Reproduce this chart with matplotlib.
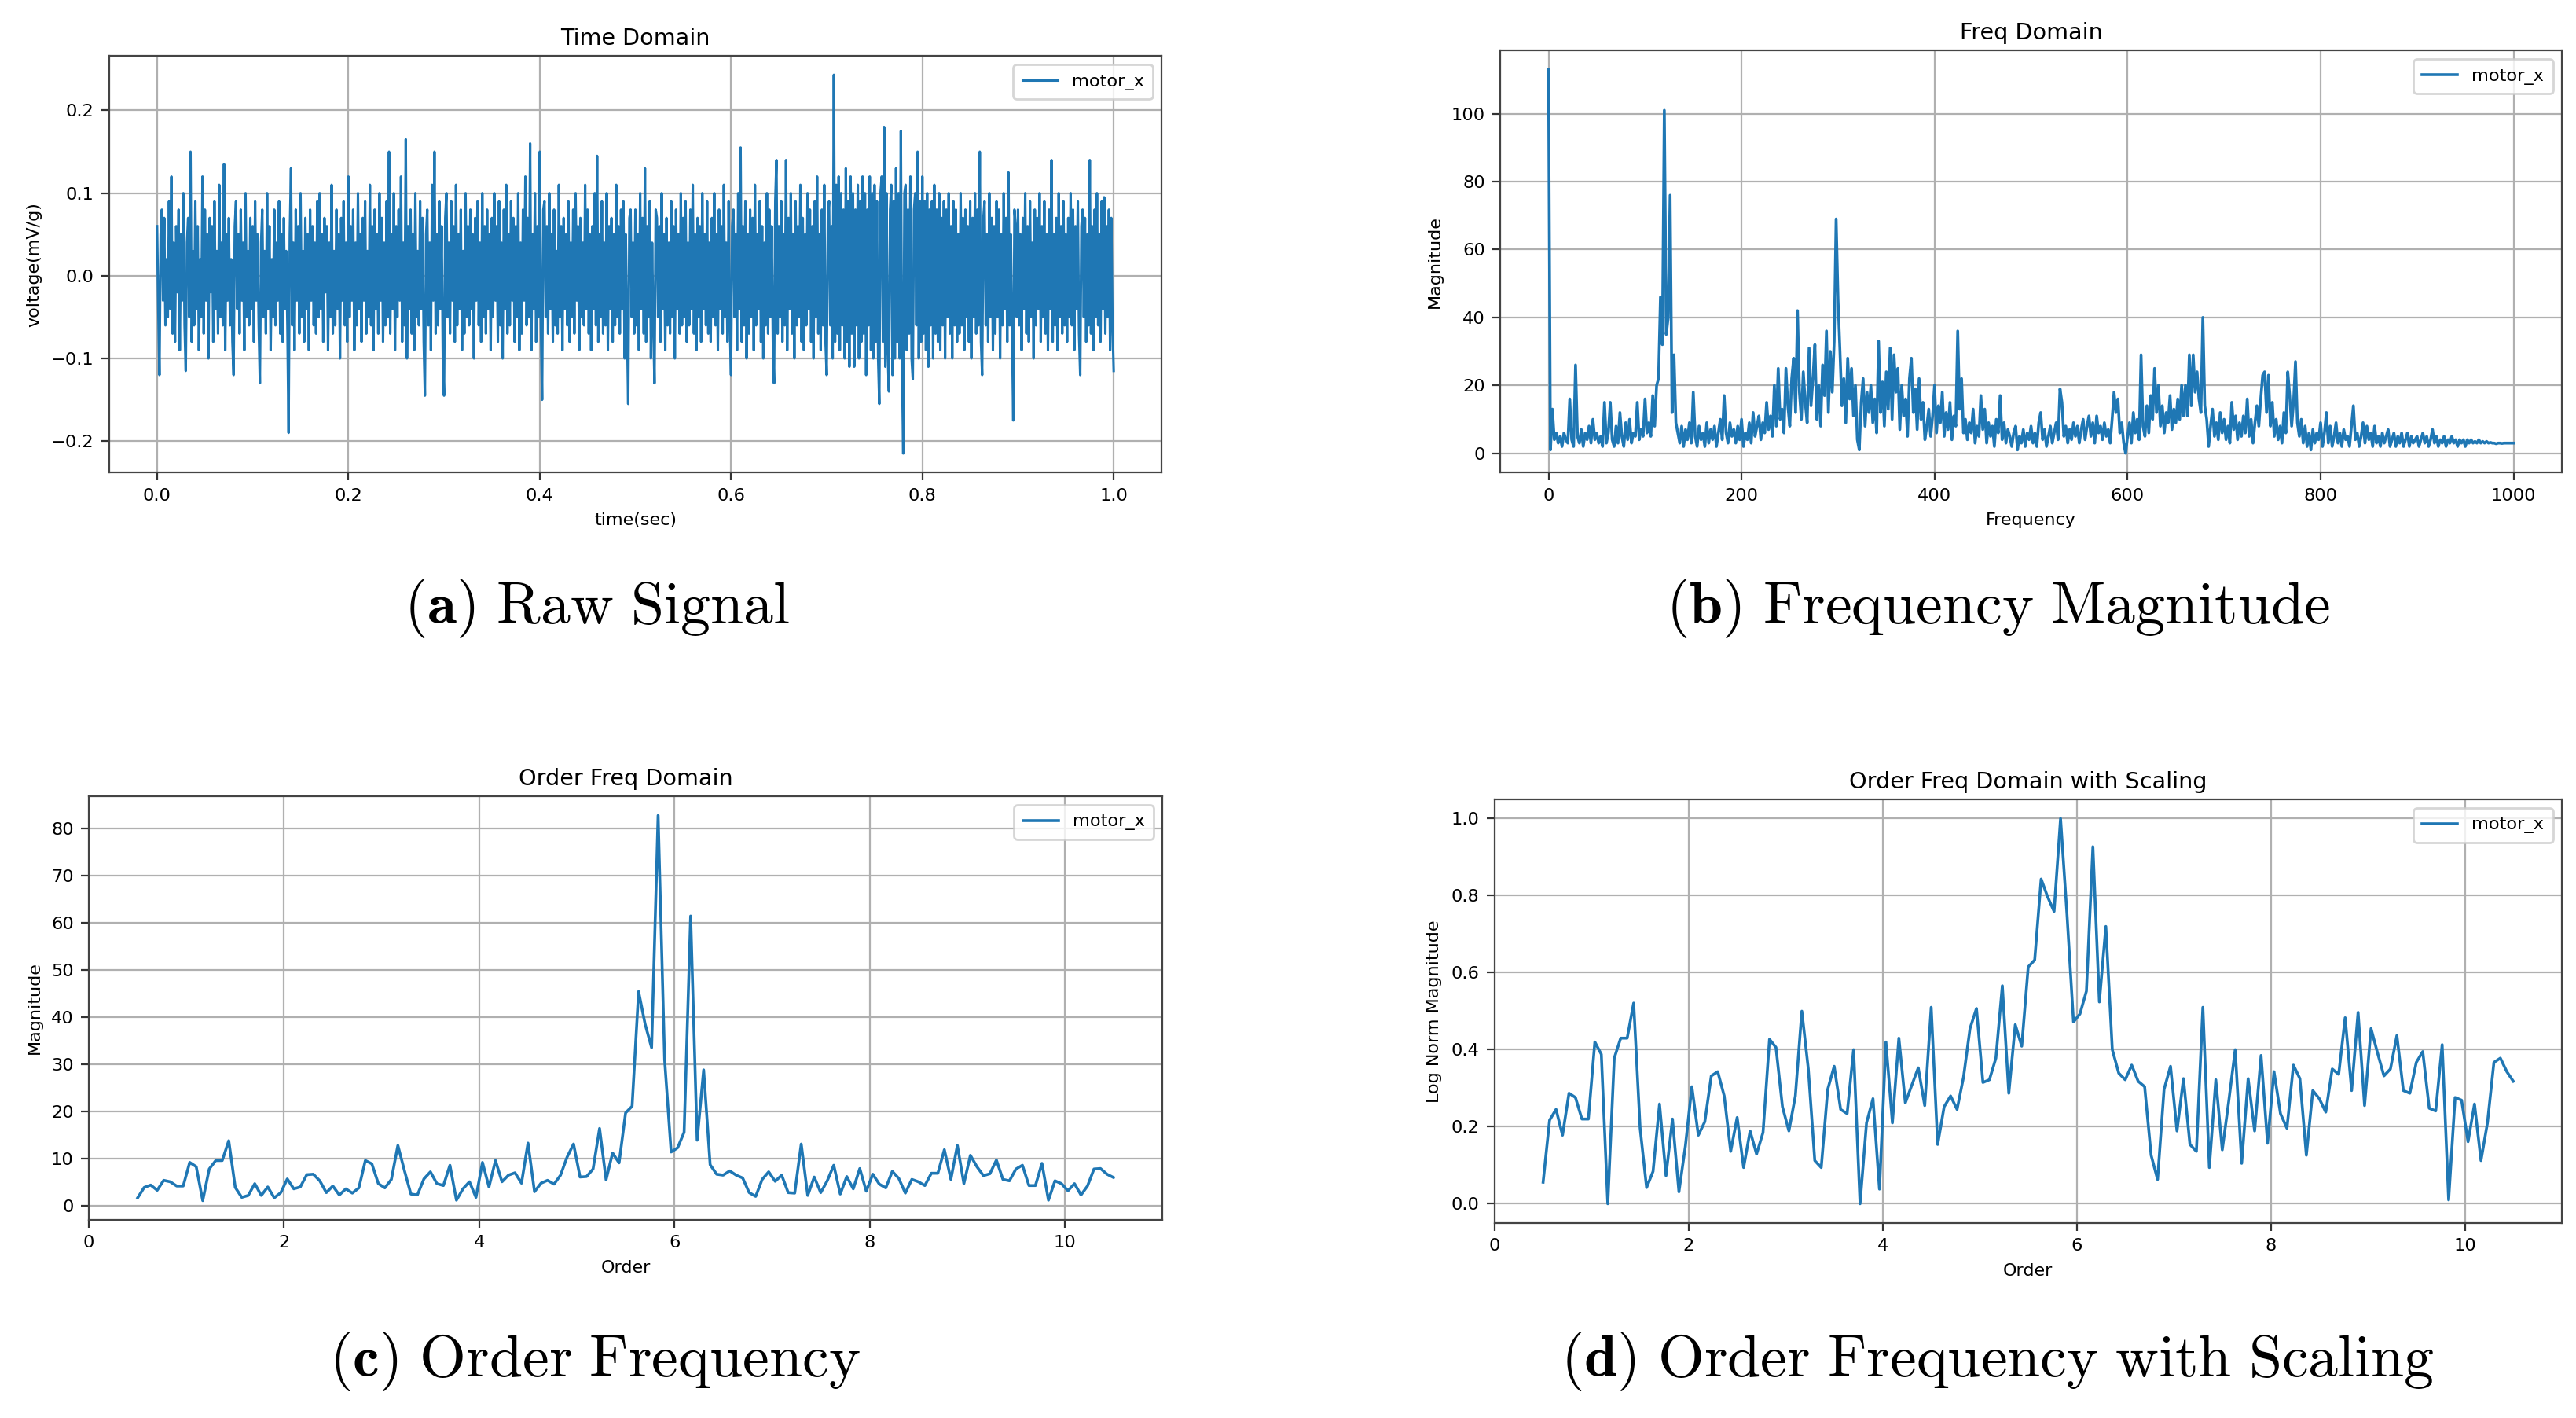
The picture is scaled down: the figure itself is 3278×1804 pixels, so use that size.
import numpy as np
import matplotlib
matplotlib.use("Agg")
import matplotlib.pyplot as plt

# === data ===
# (a) raw vibration signal, one value every 1.25 ms over 1 s
time_sig = [
    .06, -.04, -.12, .05, .08, -.03, .07, -.06, .02, -.05, .09, -.04, .12, -.07, .04, -.08, .06, -.02, .08, -.09,
    .05, -.03, .10, -.06, -.115, .04, .07, -.05, .15, -.08, .03, -.06, .09, -.04, .06, -.09, .02, -.05, .12, -.07,
    .08, -.03, .05, -.1, .07, -.02, .06, -.08, .09, -.04, .03, -.07, .11, -.05, .04, -.06, .135, -.09, .05, -.03,
    .07, -.06, .02, -.08, -.12, .06, .09, -.04, .05, -.07, .08, -.03, .04, -.09, .1, -.05, .03, -.06, .07, -.04,
    .06, -.08, .09, -.03, .05, -.06, -.13, .04, .08, -.05, .03, -.07, .1, -.04, .06, -.09, .02, -.05, .08, -.06,
    .04, -.03, .09, -.07, .05, -.08, .07, -.04, .03, -.06, -.19, .05, .13, -.06, .04, -.09, .08, -.03, .06, -.07,
    .1, -.05, .03, -.08, .07, -.04, .05, -.09, .08, -.03, .06, -.06, .04, -.07, .09, -.05, .1, -.04, .05, -.08,
    .07, -.02, .06, -.09, .04, -.05, .11, -.07, .03, -.06, .08, -.04, .05, -.1, .07, -.03, .09, -.06, .04, -.08,
    .12, -.05, .06, -.03, .08, -.09, .04, -.06, .1, -.04, .05, -.08, .07, -.03, .09, -.07, .03, -.05, .11, -.06,
    .06, -.09, .08, -.04, .05, -.07, .1, -.03, .07, -.08, .04, -.06, .09, -.05, .15, -.07, .05, -.04, .1, -.09,
    .06, -.05, .08, -.03, .12, -.08, .04, -.06, .165, -.1, .06, -.04, .08, -.07, .05, -.09, .1, -.05, .03, -.06,
    .09, -.04, .07, -.08, -.145, .05, .08, -.06, .04, -.09, .11, -.03, .15, -.07, .05, -.06, .09, -.04, .06, -.1,
    -.145, .07, .1, -.05, .04, -.07, .09, -.03, .06, -.08, .11, -.06, .05, -.04, .08, -.09, .03, -.07, .1, -.05,
    .06, -.06, .08, -.04, .05, -.1, .07, -.03, .09, -.06, .04, -.08, .1, -.05, .06, -.07, .08, -.04, .05, -.09,
    .07, -.05, .1, -.03, .06, -.08, .09, -.06, .04, -.1, .08, -.04, .11, -.07, .05, -.06, .09, -.03, .07, -.08,
    .06, -.05, .1, -.09, .04, -.07, .08, -.03, .12, -.06, .07, -.05, .16, -.09, .05, -.04, .1, -.08, .06, -.05,
    .15, -.06, -.15, .08, .09, -.05, .06, -.07, .1, -.04, .05, -.08, .08, -.06, .03, -.07, .11, -.05, .06, -.09,
    .07, -.04, .05, -.06, .09, -.08, .04, -.05, .08, -.07, .1, -.03, .06, -.09, .07, -.05, .04, -.06, .11, -.04,
    .08, -.07, .05, -.09, .06, -.04, .1, -.06, .145, -.08, .05, -.05, .09, -.07, .04, -.06, .1, -.09, .06, -.04,
    .07, -.08, .05, -.06, .11, -.05, .06, -.07, .08, -.04, .09, -.1, .05, -.06, -.155, .07, .08, -.05, .04, -.07,
    .08, -.06, .05, -.09, .1, -.04, .07, -.07, .13, -.08, .06, -.05, .09, -.1, .04, -.06, -.13, .08, .07, -.05,
    .06, -.08, .1, -.04, .05, -.09, .07, -.06, .04, -.07, .09, -.05, .06, -.1, .08, -.04, .05, -.07, .1, -.06,
    .07, -.05, .09, -.08, .04, -.06, .08, -.04, .11, -.07, .05, -.09, .07, -.05, .06, -.08, .1, -.04, .05, -.06,
    .09, -.07, .04, -.08, .07, -.05, .1, -.06, .05, -.09, .08, -.04, .06, -.07, .11, -.05, .04, -.08, .09, -.06,
    -.12, .06, .08, -.05, .05, -.09, .1, -.04, .155, -.08, .06, -.06, .09, -.1, .05, -.07, .08, -.05, .07, -.09,
    .11, -.06, .05, -.04, .09, -.08, .06, -.1, .04, -.06, .1, -.07, .08, -.05, .06, -.08, -.13, .09, .14, -.07,
    .06, -.05, .09, -.08, .05, -.06, .14, -.09, .07, -.04, .1, -.07, .05, -.1, .09, -.06, .06, -.05, .11, -.08,
    .07, -.09, .05, -.06, .1, -.04, .08, -.08, .06, -.1, .09, -.05, .12, -.07, .05, -.09, .08, -.06, .11, -.08,
    -.12, .07, .09, -.06, .06, -.1, .243, -.08, .11, -.07, .12, -.09, .1, -.06, .08, -.1, .13, -.08, .09, -.11,
    .12, -.07, .1, -.11, .08, -.06, .11, -.1, .09, -.08, .12, -.07, .1, -.12, .08, -.06, .12, -.09, .1, -.1,
    .11, -.08, .09, -.1, -.155, .1, .12, -.08, .18, -.11, .1, -.09, -.14, .08, .11, -.12, .09, -.1, .13, -.08,
    .1, -.1, .175, -.11, -.215, .1, .11, -.09, .08, -.07, .12, -.1, -.125, .08, .1, -.06, .15, -.1, .09, -.08,
    .12, -.07, .09, -.09, .1, -.11, .08, -.06, .09, -.1, .11, -.07, .08, -.08, .1, -.09, .07, -.06, .09, -.1,
    .08, -.05, .1, -.07, .06, -.1, .09, -.06, .08, -.08, .05, -.07, .1, -.06, .07, -.09, .08, -.05, .06, -.08,
    .09, -.1, .07, -.05, .1, -.07, .08, -.06, .15, -.08, -.12, .07, .09, -.06, .05, -.08, .1, -.05, .07, -.09,
    .06, -.07, .09, -.05, .08, -.1, .05, -.06, .1, -.04, .07, -.08, .125, -.06, .05, -.07, -.175, .08, .06, -.05,
    .08, -.06, .05, -.09, .07, -.04, .1, -.07, .06, -.08, .09, -.05, .04, -.1, .08, -.06, .07, -.04, .1, -.08,
    .06, -.05, .09, -.07, .05, -.09, .08, -.04, .14, -.08, .05, -.06, .07, -.09, .1, -.05, .06, -.07, .09, -.06,
    .05, -.08, .07, -.05, .1, -.06, .08, -.09, .06, -.04, .09, -.07, -.12, .06, .08, -.05, .07, -.08, .05, -.06,
    .14, -.07, .06, -.09, .08, -.05, .1, -.06, .05, -.08, .09, -.04, .095, -.07, .06, -.05, .08, -.09, .07, -.06,
    -.115,
]

# (b) FFT magnitude, one value every 2 Hz from 0 to 1000
freq_mag = [
    113, 1, 13, 4, 6, 3, 5, 2, 6, 4, 3, 16, 4, 2, 26, 5, 3, 7, 2, 6,
    4, 8, 3, 10, 4, 6, 3, 5, 2, 15, 3, 6, 15, 4, 2, 8, 3, 12, 5, 2,
    9, 4, 10, 3, 6, 5, 15, 4, 7, 5,
    16, 6, 9, 5, 17, 8, 20, 22, 46, 32, 101, 35, 40, 76, 12, 29, 9, 6, 3, 8,
    2, 7, 4, 9, 3, 18, 5, 2, 8, 4, 6, 2, 9, 3, 7, 4, 8, 2, 6, 10,
    4, 17, 6, 3, 9, 5, 7, 3, 8, 4,
    10, 2, 6, 4, 9, 3, 12, 5, 8, 11, 4, 9, 6, 15, 7, 11, 5, 20, 8, 25,
    10, 13, 6, 25, 14, 8, 22, 28, 12, 42, 18, 10, 24, 15, 9, 31, 14, 22, 32, 10,
    20, 8, 26, 17, 36, 12, 30, 18, 33, 69,
    45, 30, 14, 22, 9, 28, 16, 25, 11, 20, 4, 1, 15, 22, 8, 18, 12, 20, 9, 16,
    6, 33, 12, 21, 8, 24, 13, 31, 10, 29, 18, 25, 7, 20, 11, 16, 5, 22, 28, 12,
    19, 7, 22, 10, 15, 4, 8, 13, 5, 11,
    20, 6, 14, 9, 18, 5, 12, 7, 15, 4, 11, 8, 36, 13, 22, 6, 10, 4, 9, 6,
    13, 3, 8, 5, 17, 7, 13, 3, 9, 5, 8, 2, 10, 6, 17, 4, 9, 3, 7, 5,
    2, 6, 8, 1, 5, 3, 7, 2, 6, 4,
    8, 3, 6, 2, 9, 12, 4, 7, 2, 5, 8, 3, 6, 9, 4, 19, 15, 5, 8, 3,
    7, 4, 9, 5, 8, 3, 7, 10, 4, 8, 11, 5, 9, 3, 11, 6, 8, 4, 9, 5,
    7, 3, 10, 18, 12, 16, 6, 9, 3, 0,
    5, 9, 3, 12, 6, 10, 4, 29, 8, 5, 14, 6, 17, 10, 25, 12, 20, 8, 14, 6,
    12, 9, 17, 7, 13, 9, 16, 10, 20, 11, 20, 11, 29, 14, 29, 18, 24, 16, 12, 40,
    14, 10, 2, 8, 13, 5, 9, 4, 12, 6,
    10, 4, 8, 3, 15, 7, 11, 4, 9, 5, 11, 6, 16, 5, 10, 3, 9, 14, 8, 16,
    23, 24, 12, 23, 8, 15, 5, 10, 4, 8, 3, 12, 6, 24, 17, 8, 15, 27, 9, 5,
    10, 3, 8, 2, 6, 1, 7, 3, 6, 4,
    9, 2, 6, 12, 3, 8, 2, 5, 9, 3, 6, 2, 7, 4, 5, 2, 8, 14, 4, 6,
    2, 5, 9, 3, 8, 4, 6, 2, 8, 3, 5, 2, 6, 3, 5, 7, 2, 4, 6, 2,
    5, 3, 6, 2, 4, 6, 2, 5, 3, 4,
    5, 2, 4, 6, 3, 5, 2, 4, 7, 3, 5, 2, 4, 3, 5, 2, 4, 3, 5, 3,
    4, 2, 4, 3, 4, 2, 4, 3, 4, 3, 3.5, 3, 4, 3, 3.5, 3, 3.5, 3, 3.2, 3,
    3, 2.8, 3, 3, 2.9, 3, 3, 3, 3, 3, 3,
]

# (c) order spectrum magnitude, orders 0.5 .. 10.5
order_mag = [
    1.7, 3.9, 4.4, 3.3, 5.4, 5.1, 4.2, 4.2, 9.2, 8.3, 1.1, 7.8, 9.6, 9.6, 13.8, 3.9, 1.8, 2.2, 4.7, 2.2,
    4.0, 1.7, 2.8, 5.7, 3.6, 4.0, 6.6, 6.7, 5.3, 2.8, 4.2, 2.3, 3.6, 2.7, 3.8, 9.6, 8.9, 4.7, 3.8, 5.6,
    12.8, 7.5, 2.5, 2.3, 5.7, 7.2, 4.7, 4.3, 8.6, 1.2, 3.6, 5.1, 1.8, 9.2, 4.0, 9.6, 5.1, 6.5, 7.0, 4.8,
    13.3, 3.0, 4.8, 5.4, 4.6, 6.5, 10.3, 13.1, 6.1, 6.2, 7.8, 16.4, 5.5, 11.2, 9.1, 19.7, 21.1, 45.4, 38.5, 33.5,
    82.7, 31.0, 11.4, 12.3, 15.6, 61.4, 13.9, 28.8, 8.7, 6.7, 6.5, 7.4, 6.5, 5.9, 2.8, 2.0, 5.6, 7.2, 5.2, 6.5,
    2.8, 2.7, 13.1, 2.2, 6.1, 2.8, 5.3, 8.6, 2.5, 6.2, 3.6, 7.9, 3.1, 6.7, 4.6, 3.8, 7.3, 5.8, 2.7, 5.6,
    5.1, 4.3, 6.9, 6.9, 11.9, 5.6, 12.8, 4.7, 10.7, 8.3, 6.4, 6.8, 9.7, 5.6, 5.3, 7.8, 8.6, 4.3, 4.3, 9.0,
    1.2, 5.3, 4.7, 3.2, 4.7, 2.3, 4.2, 7.8, 7.9, 6.7, 6.0,
]

# (d) log-normalised order spectrum
order_log = [
    0.056, 0.217, 0.245, 0.178, 0.287, 0.276, 0.22, 0.22, 0.42, 0.388, 0.0, 0.378, 0.43, 0.43, 0.521, 0.196,
    0.042, 0.084, 0.259, 0.073, 0.22, 0.031, 0.15, 0.304, 0.178, 0.213, 0.332, 0.343, 0.28, 0.136, 0.224, 0.094,
    0.189, 0.129, 0.185, 0.427, 0.406, 0.252, 0.189, 0.28, 0.50, 0.35, 0.112, 0.094, 0.297, 0.357, 0.245, 0.234,
    0.40, 0.0, 0.21, 0.273, 0.038, 0.42, 0.21, 0.43, 0.262, 0.308, 0.353, 0.255, 0.51, 0.154, 0.252, 0.28,
    0.245, 0.329, 0.455, 0.507, 0.315, 0.322, 0.378, 0.566, 0.287, 0.465, 0.409, 0.615, 0.633, 0.843, 0.797, 0.759,
    1.0, 0.75, 0.472, 0.493, 0.552, 0.927, 0.524, 0.72, 0.40, 0.339, 0.322, 0.36, 0.318, 0.304, 0.126, 0.063,
    0.297, 0.357, 0.189, 0.325, 0.154, 0.136, 0.51, 0.094, 0.322, 0.14, 0.266, 0.40, 0.105, 0.325, 0.189, 0.385,
    0.157, 0.343, 0.234, 0.196, 0.36, 0.325, 0.126, 0.294, 0.273, 0.238, 0.35, 0.336, 0.483, 0.294, 0.497, 0.255,
    0.455, 0.392, 0.332, 0.35, 0.437, 0.294, 0.287, 0.367, 0.395, 0.248, 0.241, 0.413, 0.01, 0.276, 0.269, 0.161,
    0.259, 0.112, 0.21, 0.367, 0.378, 0.343, 0.318,
]

t = np.linspace(0, 1, len(time_sig))
freqs = np.linspace(0, 1000, len(freq_mag))
orders = np.linspace(0.5, 10.5, len(order_mag))

TITLE_FS = 10.3
TICK_FS = 8.1
LABEL_FS = 8.0

plt.rcParams["font.family"] = ["DejaVu Sans"]
plt.rcParams["mathtext.fontset"] = "cm"
plt.rcParams["path.simplify"] = False

fig = plt.figure(figsize=(16.39, 9.02), dpi=200)

boxes = {
    "a": [0.0424, 0.6668, 0.4085, 0.2938],
    "b": [0.5824, 0.6668, 0.4121, 0.2977],
    "c": [0.0345, 0.1397, 0.4167, 0.2988],
    "d": [0.5802, 0.1375, 0.4143, 0.2988],
}


def style(ax, title, xlabel, ylabel):
    ax.set_title(title, fontsize=TITLE_FS, pad=5)
    ax.set_xlabel(xlabel, fontsize=LABEL_FS, labelpad=4)
    ax.set_ylabel(ylabel, fontsize=LABEL_FS, labelpad=4)
    ax.tick_params(labelsize=TICK_FS, length=3.5, width=0.8, color="#333333")
    ax.grid(True, color="#b0b0b0", linewidth=0.8)
    for sp in ax.spines.values():
        sp.set_color("#444444")
        sp.set_linewidth(0.8)
    ax.legend(loc="upper right", fontsize=TICK_FS, handlelength=2.0, borderpad=0.5)


ax = fig.add_axes(boxes["a"])
ax.plot(t, time_sig, color="#1f77b4", lw=1.1, label="motor_x")
ax.set_xticks([0.0, 0.2, 0.4, 0.6, 0.8, 1.0])
ax.set_yticks([-0.2, -0.1, 0.0, 0.1, 0.2])
style(ax, "Time Domain", "time(sec)", "voltage(mV/g)")

ax = fig.add_axes(boxes["b"])
ax.plot(freqs, freq_mag, color="#1f77b4", lw=1.3, label="motor_x")
ax.set_xticks([0, 200, 400, 600, 800, 1000])
ax.set_yticks([0, 20, 40, 60, 80, 100])
style(ax, "Freq Domain", "Frequency", "Magnitude")

ax = fig.add_axes(boxes["c"])
ax.plot(orders, order_mag, color="#1f77b4", lw=1.3, label="motor_x")
ax.set_xlim(0, 11)
ax.set_xticks([0, 2, 4, 6, 8, 10])
ax.set_yticks(range(0, 81, 10))
style(ax, "Order Freq Domain", "Order", "Magnitude")

ax = fig.add_axes(boxes["d"])
ax.plot(orders, order_log, color="#1f77b4", lw=1.3, label="motor_x")
ax.set_xlim(0, 11)
ax.set_xticks([0, 2, 4, 6, 8, 10])
ax.set_yticks([0.0, 0.2, 0.4, 0.6, 0.8, 1.0])
style(ax, "Order Freq Domain with Scaling", "Order", "Log Norm Magnitude")

# sub-figure captions
CAP_FS = 27.3
captions = [
    (0.2318, 0.571, r"$(\mathbf{a})\ \mathrm{Raw\ Signal}$"),
    (0.7755, 0.571, r"$(\mathbf{b})\ \mathrm{Frequency\ Magnitude}$"),
    (0.2310, 0.040, r"$(\mathbf{c})\ \mathrm{Order\ Frequency}$"),
    (0.7755, 0.040, r"$(\mathbf{d})\ \mathrm{Order\ Frequency\ with\ Scaling}$"),
]
for x, y, s in captions:
    fig.text(x, y, s, fontsize=CAP_FS, ha="center", va="center")

fig.savefig("out.png", dpi=200)
